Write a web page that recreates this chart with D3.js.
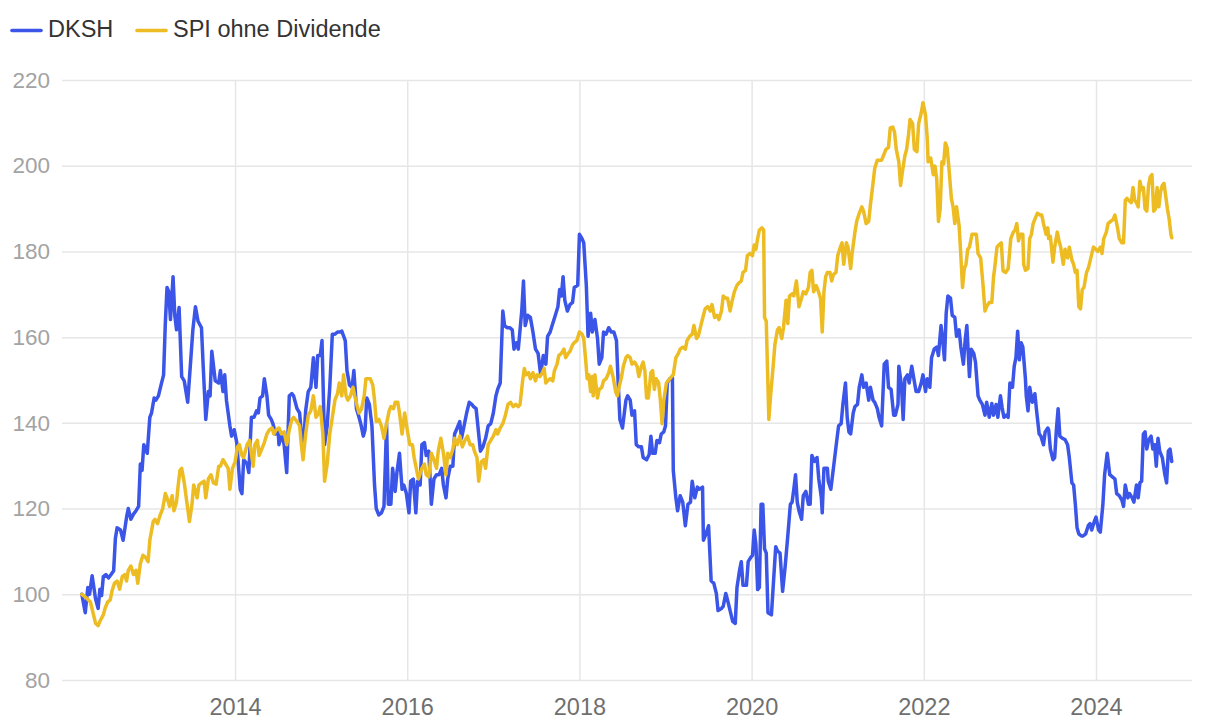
<!DOCTYPE html>
<html>
<head>
<meta charset="utf-8">
<script src="https://cdn.jsdelivr.net/npm/d3@7/dist/d3.min.js"></script>
<style>
  body { margin: 0; background: #fff; }
  svg { display: block; font-family: "Liberation Sans", Arial, Helvetica, sans-serif; }
</style>
</head>
<body>
<svg id="chart" width="1220" height="726"></svg>
<script>
// ---- data (indexed performance, start = 100) ----
const seriesNames = ["DKSH", "SPI ohne Dividende"];
const yTickValues = [80, 100, 120, 140, 160, 180, 200, 220];
const xTickValues = [2014, 2016, 2018, 2020, 2022, 2024];

// dates as decimal years
const dkshYears = [
2012.22,2012.26,2012.29,2012.31,2012.34,2012.38,2012.41,2012.43,2012.45,2012.47,2012.50,2012.53,2012.56,2012.59,2012.61,2012.63,2012.67,2012.70,2012.74,2012.76,2012.79,2012.82,2012.85,2012.88,2012.90,2012.92,2012.94,2012.98,
2013.01,2013.03,2013.06,2013.08,2013.11,2013.14,2013.17,2013.19,2013.21,2013.23,2013.25,2013.28,2013.30,2013.32,2013.35,2013.38,2013.41,2013.45,2013.48,2013.51,2013.54,2013.57,2013.61,2013.63,2013.66,2013.69,2013.71,2013.73,2013.77,2013.81,2013.83,2013.86,2013.88,2013.90,2013.94,2013.96,2013.99,
2014.02,2014.06,2014.08,2014.10,2014.14,2014.16,2014.19,2014.22,2014.25,2014.27,2014.29,2014.32,2014.34,2014.37,2014.39,2014.42,2014.44,2014.47,2014.50,2014.51,2014.54,2014.57,2014.60,2014.63,2014.66,2014.68,2014.72,2014.75,2014.77,2014.79,2014.82,2014.85,2014.88,2014.91,2014.94,2014.96,2014.99,
2015.01,2015.04,2015.07,2015.10,2015.13,2015.16,2015.19,2015.22,2015.24,2015.28,2015.30,2015.33,2015.36,2015.38,2015.41,2015.44,2015.46,2015.49,2015.51,2015.53,2015.56,2015.59,2015.62,2015.64,2015.67,2015.70,2015.73,2015.76,2015.78,2015.81,2015.83,2015.86,2015.88,2015.91,2015.94,2015.96,2015.99,
2016.02,2016.04,2016.07,2016.10,2016.12,2016.15,2016.17,2016.20,2016.22,2016.25,2016.28,2016.31,2016.34,2016.37,2016.40,2016.42,2016.45,2016.47,2016.50,2016.53,2016.55,2016.58,2016.61,2016.63,2016.66,2016.69,2016.72,2016.75,2016.77,2016.80,2016.83,2016.85,2016.88,2016.91,2016.94,2016.97,
2017.00,2017.03,2017.05,2017.08,2017.11,2017.13,2017.16,2017.19,2017.22,2017.24,2017.27,2017.29,2017.33,2017.35,2017.37,2017.40,2017.43,2017.46,2017.49,2017.52,2017.55,2017.58,2017.61,2017.63,2017.66,2017.69,2017.72,2017.75,2017.77,2017.79,2017.81,2017.83,2017.86,2017.89,2017.92,2017.94,2017.98,
2018.00,2018.03,2018.05,2018.08,2018.10,2018.13,2018.15,2018.18,2018.21,2018.23,2018.26,2018.28,2018.31,2018.34,2018.37,2018.40,2018.43,2018.45,2018.47,2018.50,2018.54,2018.56,2018.59,2018.61,2018.64,2018.66,2018.69,2018.72,2018.74,2018.78,2018.81,2018.83,2018.85,2018.88,2018.90,2018.93,2018.95,2018.98,
2019.00,2019.02,2019.05,2019.08,2019.09,2019.12,2019.14,2019.17,2019.20,2019.23,2019.26,2019.29,2019.31,2019.34,2019.37,2019.39,2019.43,2019.44,2019.47,2019.50,2019.53,2019.56,2019.59,2019.61,2019.65,2019.67,2019.70,2019.72,2019.75,2019.78,2019.81,2019.83,2019.86,2019.88,2019.90,2019.94,2019.96,2019.99,
2020.01,2020.03,2020.05,2020.07,2020.09,2020.11,2020.13,2020.15,2020.17,2020.19,2020.23,2020.25,2020.28,2020.30,2020.33,2020.36,2020.39,2020.42,2020.45,2020.47,2020.49,2020.51,2020.53,2020.55,2020.58,2020.60,2020.63,2020.66,2020.68,2020.70,2020.73,2020.76,2020.78,2020.81,2020.82,2020.84,2020.88,2020.89,2020.92,2020.95,2020.98,
2021.01,2021.04,2021.06,2021.09,2021.11,2021.13,2021.15,2021.18,2021.20,2021.23,2021.25,2021.28,2021.30,2021.33,2021.36,2021.38,2021.41,2021.43,2021.46,2021.48,2021.51,2021.54,2021.57,2021.59,2021.62,2021.65,2021.67,2021.70,2021.71,2021.74,2021.76,2021.78,2021.81,2021.83,2021.86,2021.88,2021.91,2021.94,2021.97,2021.99,
2022.02,2022.04,2022.07,2022.09,2022.12,2022.15,2022.17,2022.20,2022.22,2022.24,2022.26,2022.28,2022.31,2022.33,2022.36,2022.38,2022.41,2022.43,2022.46,2022.48,2022.50,2022.53,2022.55,2022.58,2022.60,2022.63,2022.65,2022.68,2022.71,2022.73,2022.76,2022.79,2022.81,2022.84,2022.86,2022.89,2022.91,2022.93,2022.96,2022.98,
2023.00,2023.03,2023.05,2023.07,2023.09,2023.11,2023.13,2023.15,2023.18,2023.19,2023.21,2023.23,2023.26,2023.29,2023.31,2023.34,2023.36,2023.39,2023.41,2023.44,2023.45,2023.47,2023.50,2023.52,2023.54,2023.56,2023.58,2023.61,2023.64,2023.67,2023.69,2023.72,2023.74,2023.76,2023.78,2023.80,2023.83,2023.85,2023.88,2023.91,2023.93,2023.95,2023.98,
2024.00,2024.03,2024.05,2024.08,2024.10,2024.13,2024.16,2024.19,2024.22,2024.24,2024.27,2024.30,2024.32,2024.34,2024.37,2024.39,2024.42,2024.44,2024.47,2024.49,2024.51,2024.53,2024.55,2024.57,2024.59,2024.61,2024.64,2024.66,2024.68,2024.70,2024.72,2024.74,2024.77,2024.80,2024.82,2024.84,2024.86,2024.88
];
const dkshValues = [
100,95.7,101.6,100,104.3,98.9,96.7,101.2,99.7,104.1,104.6,103.8,104.6,105.5,113,115.5,115,112.6,118,120,117.5,118.7,119.5,120.5,130.4,128.9,134.9,132.9,
141.3,142.3,145.8,145.3,146.3,148.8,151.2,163.2,171.6,170.6,164.1,174.1,165.1,161.7,166.9,150.8,149.8,144.8,153.2,161.7,167.1,163.7,162.2,153.2,140.8,147.3,146.3,156.7,149.8,149.3,152.2,147.3,151.2,145.3,139.3,136.9,138.4,
135.4,124.5,123.5,131.4,130.4,128.4,141.3,141.3,142.8,142.3,145.8,146.3,150.3,146.3,141.8,140.8,139.8,137.4,138.4,134.9,137.4,134.9,128.4,146.3,146.8,146.3,143.3,142.3,137.4,133.4,142.8,147.3,148.3,155.2,148.3,155.7,155.7,
159.2,134.9,139.3,148.3,160.7,160.7,161.2,161.2,161.4,159.2,152.2,148.8,148.3,152.2,143.3,141.3,139.8,136.9,138.4,145.8,144.3,139.3,125.5,120,118.5,119,120.5,139.8,121,121,129.4,124,128.4,132.9,124.5,125.5,123.5,
119,126.4,126.9,119,126.4,125.5,134.9,135.4,132.4,133.4,121,126.9,127.9,127.9,129.4,125.5,122.5,126.9,129.9,129.9,137.4,138.8,140.3,136.4,139.3,142.3,144.8,144.3,143.8,143.3,137.4,133.4,134.4,136.4,139.3,139.8,
142.3,146.3,147.8,149.3,166.1,162.7,162.2,162.2,161.7,157.2,158.7,157.2,166.1,173.1,162.7,165.1,164.6,161.2,157.2,156.2,151.2,155.7,153.7,160.2,161.2,163.2,165.1,167.1,171.1,169.6,174.1,168.6,166.1,167.6,168.1,171.6,172.1,
184,183,182,172.1,160.2,165.6,161.2,164.1,159.7,153.7,155.2,161.2,160.7,162.2,161.2,161.2,159.2,149.3,140.8,138.8,145.3,146.3,145.3,141.8,142.8,134.9,134.4,134.4,131.9,131.4,132.6,136.9,132.9,132.9,135.9,135.4,137.4,137.9,
139.3,149.3,150.3,150.5,128.9,122.5,119.5,123,121.5,116,121,121.5,126.4,122.5,125,124.5,125,112.6,114.1,116,103.1,102.6,100.2,96.2,96.7,97.2,100.2,98.7,96.2,93.7,93.2,101.6,105.6,107.6,102.1,102.1,107.6,108.6,
109.1,115,111.6,101.1,101.6,121,121,110.6,109.6,95.7,95.2,101.6,111.1,110.1,109.6,100.7,106.6,113.6,121,121.5,124.5,127.9,121.5,119.5,117.5,123,124,121,121,132.4,131,131.9,126.9,122.5,119,129.4,129.4,126.4,124.5,129.4,134.4,
139.3,139.8,144.3,149.3,141.3,137.9,137.4,142.3,143.8,144.3,148.3,151.2,148.3,149.3,145.3,148.3,145.3,144.8,143.3,141.3,139.3,153.7,154.4,148.3,147.8,141.8,141.8,144.3,153.2,148.8,140.8,150.3,151.2,149.3,153.2,150.8,147.3,147.3,149.3,151.2,
147.3,150.3,148.3,155.2,157.2,157.7,155.7,162.7,159.2,154.7,165.6,169.6,169.1,165.1,164.6,160.2,161.7,157.7,153.7,159.2,162.7,150.8,157.2,156.2,154.2,146.3,145.3,144.3,141.8,144.8,141.3,144.5,141.8,144.3,141.3,146.3,143.5,141.3,141.8,141.3,
149.3,148.3,153.2,155.2,161.4,154.7,158.7,157.7,150.3,146.3,142.8,148.3,144.8,146.8,142.8,137.4,136.9,134.9,137.9,138.8,138.4,133.9,131.4,131.9,138.4,143.3,136.9,136.4,136.1,134.9,131.9,126,125.5,121,115.5,114.1,113.6,113.6,114.1,116,116.5,115,117,
118,115,114.5,121,127.9,132.9,127.9,127.4,126.9,123.5,123,122,120.5,125.5,122.5,123.5,122.5,121.5,125.5,122.5,126,126.4,137.4,137.9,133.9,135.9,136.9,133.9,134.9,129.9,136.4,133.4,131.9,127.9,126,133.4,133.9,131
];

const spiYears = [
2012.22,2012.27,2012.32,2012.35,2012.38,2012.41,2012.43,2012.47,2012.49,2012.52,2012.55,2012.57,2012.60,2012.63,2012.66,2012.69,2012.72,2012.74,2012.76,2012.79,2012.82,2012.85,2012.87,2012.90,2012.93,2012.96,2012.99,
2013.01,2013.05,2013.07,2013.10,2013.13,2013.16,2013.19,2013.21,2013.24,2013.27,2013.29,2013.32,2013.34,2013.36,2013.38,2013.41,2013.44,2013.47,2013.50,2013.52,2013.56,2013.58,2013.61,2013.64,2013.66,2013.69,2013.72,2013.75,2013.78,2013.81,2013.83,2013.86,2013.89,2013.92,2013.94,2013.97,
2014.00,2014.03,2014.05,2014.08,2014.10,2014.14,2014.17,2014.21,2014.23,2014.26,2014.28,2014.31,2014.34,2014.37,2014.40,2014.43,2014.45,2014.48,2014.51,2014.54,2014.57,2014.60,2014.63,2014.66,2014.68,2014.72,2014.75,2014.77,2014.79,2014.82,2014.85,2014.88,2014.91,2014.94,2014.97,2014.99,
2015.02,2015.04,2015.07,2015.10,2015.13,2015.16,2015.19,2015.21,2015.24,2015.26,2015.29,2015.31,2015.34,2015.37,2015.39,2015.42,2015.44,2015.47,2015.50,2015.52,2015.55,2015.57,2015.60,2015.62,2015.64,2015.67,2015.70,2015.73,2015.76,2015.79,2015.81,2015.84,2015.86,2015.89,2015.91,2015.94,2015.97,
2016.00,2016.03,2016.06,2016.08,2016.11,2016.13,2016.17,2016.20,2016.22,2016.25,2016.28,2016.31,2016.34,2016.36,2016.39,2016.42,2016.45,2016.47,2016.50,2016.53,2016.55,2016.58,2016.61,2016.64,2016.67,2016.70,2016.73,2016.76,2016.78,2016.81,2016.83,2016.86,2016.89,2016.91,2016.94,2016.97,
2017.00,2017.03,2017.05,2017.08,2017.11,2017.14,2017.17,2017.20,2017.23,2017.26,2017.29,2017.31,2017.34,2017.36,2017.38,2017.41,2017.43,2017.46,2017.49,2017.51,2017.54,2017.57,2017.59,2017.61,2017.63,2017.66,2017.69,2017.71,2017.74,2017.76,2017.79,2017.82,2017.84,2017.87,2017.89,2017.92,2017.94,2017.97,
2018.00,2018.03,2018.05,2018.07,2018.09,2018.11,2018.13,2018.15,2018.16,2018.18,2018.21,2018.23,2018.26,2018.28,2018.31,2018.34,2018.36,2018.39,2018.42,2018.44,2018.46,2018.49,2018.51,2018.54,2018.56,2018.59,2018.61,2018.64,2018.67,2018.69,2018.72,2018.74,2018.76,2018.78,2018.80,2018.83,2018.85,2018.87,2018.89,2018.92,2018.94,2018.96,2018.98,
2019.01,2019.03,2019.07,2019.09,2019.12,2019.15,2019.17,2019.20,2019.23,2019.25,2019.28,2019.31,2019.33,2019.36,2019.38,2019.41,2019.44,2019.46,2019.49,2019.52,2019.54,2019.57,2019.60,2019.62,2019.65,2019.67,2019.70,2019.72,2019.75,2019.77,2019.80,2019.83,2019.85,2019.88,2019.90,2019.93,2019.95,2019.98,
2020.01,2020.03,2020.05,2020.07,2020.09,2020.12,2020.14,2020.15,2020.17,2020.20,2020.22,2020.25,2020.27,2020.30,2020.32,2020.35,2020.37,2020.40,2020.42,2020.44,2020.47,2020.49,2020.52,2020.53,2020.55,2020.58,2020.60,2020.63,2020.66,2020.68,2020.70,2020.72,2020.75,2020.77,2020.80,2020.82,2020.84,2020.86,2020.88,2020.91,2020.93,2020.95,2020.98,
2021.00,2021.03,2021.05,2021.07,2021.10,2021.12,2021.15,2021.17,2021.20,2021.22,2021.25,2021.28,2021.30,2021.33,2021.36,2021.38,2021.41,2021.43,2021.46,2021.48,2021.51,2021.53,2021.56,2021.59,2021.61,2021.64,2021.66,2021.68,2021.71,2021.73,2021.75,2021.78,2021.80,2021.82,2021.84,2021.87,2021.89,2021.92,2021.94,2021.97,2021.99,
2022.02,2022.04,2022.05,2022.08,2022.11,2022.13,2022.15,2022.17,2022.19,2022.21,2022.23,2022.25,2022.27,2022.29,2022.32,2022.34,2022.36,2022.38,2022.41,2022.43,2022.45,2022.47,2022.49,2022.51,2022.53,2022.56,2022.58,2022.61,2022.63,2022.66,2022.69,2022.71,2022.73,2022.76,2022.79,2022.81,2022.82,2022.85,2022.87,2022.90,2022.92,2022.95,2022.98,
2023.01,2023.04,2023.06,2023.08,2023.10,2023.12,2023.15,2023.16,2023.18,2023.21,2023.23,2023.25,2023.27,2023.30,2023.32,2023.35,2023.37,2023.39,2023.42,2023.44,2023.45,2023.47,2023.50,2023.52,2023.55,2023.57,2023.59,2023.62,2023.64,2023.67,2023.69,2023.72,2023.74,2023.76,2023.78,2023.80,2023.82,2023.84,2023.86,2023.89,2023.91,2023.94,2023.97,
2024.00,2024.02,2024.05,2024.07,2024.09,2024.12,2024.14,2024.17,2024.20,2024.22,2024.25,2024.27,2024.30,2024.32,2024.34,2024.36,2024.38,2024.41,2024.43,2024.45,2024.47,2024.49,2024.51,2024.53,2024.55,2024.57,2024.59,2024.61,2024.63,2024.65,2024.67,2024.69,2024.71,2024.73,2024.75,2024.77,2024.79,2024.81,2024.83,2024.85,2024.87,2024.88
];
const spiValues = [
100,99.2,98.2,95.7,93.2,92.7,93.7,95.2,96.7,98.2,98.7,100.7,102.6,103.1,101.2,104.1,104.6,103.1,105.6,106.6,104.6,105.6,102.6,107.1,109.1,108.6,107.6,
112.6,117,117.5,116.5,118.5,120,123.5,122.5,120.5,123,119.5,121.5,125.5,128.9,129.4,126,121.5,117,121,125.5,122.5,125.5,126,126.4,122.5,126.9,127.9,126,125.7,129.9,129.9,131.4,130.4,129.4,124.5,129.4,
130.9,134.4,134.9,132.4,131.9,134.9,135.9,129.9,134.9,135.9,132.4,133.9,135.4,137.4,138.4,138.8,137.4,138.4,138.8,137.4,137.9,134.9,138.4,140.8,141.3,140.3,139.3,134.9,131.4,137.4,141.8,142.8,146.3,141.3,142.3,143.8,
137.4,126.4,130.4,137.4,141.3,145.3,146.8,149.3,146.3,151.2,146.3,145.3,146.3,148.3,146.3,143.8,142.3,143.3,146.3,150.3,150.3,150.3,148.8,145.3,140.3,140.8,139.3,136.4,139.8,142.8,143.8,143.3,144.8,144.8,142.3,137.4,142.3,
138.4,134.9,134.9,131.9,128.9,126.9,129.4,130.4,127.9,127.4,132.9,131.4,129.4,133.4,136.4,132.9,127.9,132.9,131.9,133.9,136.4,134.9,136.9,134.4,135.9,136.9,134.9,134.9,133.4,131.9,126.4,130.9,131.4,129.4,134.9,135.9,
136.9,138.4,137.4,138.8,139.8,141.8,144.3,144.8,143.8,144.3,143.8,144.3,149.8,152.7,151.2,151.7,150.3,151.7,149.8,151.2,150.8,151.7,152.7,149.3,149.8,150.3,149.8,152.2,153.7,155.7,156.2,157.2,155.2,156.2,156.7,158.2,158.7,159.2,
161.2,160.7,159.7,155.2,150.3,151.2,147.3,150.8,146.3,151.2,145.8,147.8,148.3,149.8,150.3,151.7,153.2,150.8,147.3,146.3,148.3,150.8,153.2,155.2,155.7,155.2,153.7,154.2,153.2,150.8,153.2,154.2,152.2,145.8,145.8,151.7,152.2,147.8,150.3,149.3,145.3,139.8,145.3,
149.3,149.8,150.8,151.2,155.2,156.2,157.2,157.7,157.2,159.2,160.2,160.7,162.7,159.7,160.2,162.7,165.1,166.6,167.1,166.1,167.6,164.6,165.1,164.1,166.1,169.6,169.1,169.1,166.1,168.1,170.6,172.1,172.6,173.1,175.1,175.6,179,179.5,
179,181.5,180.5,183,185,185.5,185,164.6,163.7,140.8,146.3,153.2,158.2,161.7,162.2,159.7,162.2,168.6,163.2,169.6,170.1,169.6,173.1,171.1,167.1,169.1,170.6,170.1,171.6,175.1,175.6,170.6,172,171,169.1,161.2,170.6,174.1,175.1,175.1,173.1,174.6,175.1,
179,181,182,177,182,181,176,180,184.5,187,188.9,190.4,189.4,186.5,187,190.9,195.9,199.4,201.3,201.3,201.3,202.3,203.8,204.3,208.8,209,207.8,203.8,200.9,195.4,198.4,202.3,203.8,206.8,210.8,209.8,203.8,203.3,209.8,212.3,214.7,
211.8,206.3,200.9,201.8,197.9,199.9,196.9,187,189.9,200.9,200.4,205.3,204.3,199.9,192.4,190.4,186.5,190.4,186,179,171.6,176,177,180.5,181,184,184,184,179.5,178.5,171.6,166.1,167.1,168.1,168.1,174.1,175.6,181,181.5,182,175.5,175.1,176,
183,184.5,185,186.5,182.5,184,184,177,175.6,176,183,184,186.5,188,188.9,188.5,188.5,186.5,184,185.5,183,183.5,177.5,181,184.5,182.5,181,177,180.5,178.5,181,178,177,175.1,175.6,167.1,166.6,171.1,171.6,175.1,176,178.5,181,
180.5,180,181,179.5,183,184.5,186.5,187,187.5,188.5,185.5,183,182,182,191.9,192.4,191.9,191.4,194.9,191.9,191.4,190.4,196.4,194.4,194.9,189.9,189.4,195.4,197.4,197.9,189.4,189.9,194.9,190.4,193.9,195.4,195.9,192.9,189.9,187.5,184,183.2
];

// ---- styling (kept separate from data) ----
const colors = ["#3a55e8", "#ecbc22"];

const svg = d3.select("#chart");
const plot = { left: 62, right: 1192, top: 80, bottom: 680 };

const x = d3.scaleLinear().domain([2011.99, 2025.115]).range([plot.left, plot.right]);
const y = d3.scaleLinear().domain([80, 220]).range([plot.bottom, plot.top]);

// horizontal grid + y labels
const yAxis = d3.axisLeft(y)
  .tickValues(yTickValues)
  .tickSize(-(plot.right - plot.left))
  .tickPadding(12)
  .tickFormat(d3.format("d"));
const gy = svg.append("g").attr("transform", `translate(${plot.left},0)`).call(yAxis);
gy.select(".domain").remove();
gy.selectAll(".tick line").attr("stroke", "#e6e6e6").attr("stroke-width", 1.5);
gy.selectAll(".tick text")
  .attr("fill", "#a3a3a3")
  .style("font-size", "22.5px")
  .attr("font-family", null);

// vertical grid + x labels
const xAxis = d3.axisBottom(x)
  .tickValues(xTickValues)
  .tickSize(-(plot.bottom - plot.top))
  .tickPadding(18)
  .tickFormat(d3.format("d"));
const gx = svg.append("g").attr("transform", `translate(0,${plot.bottom})`).call(xAxis);
gx.select(".domain").remove();
gx.selectAll(".tick line").attr("stroke", "#e6e6e6").attr("stroke-width", 1.5);
gx.selectAll(".tick text")
  .attr("fill", "#6f6f6f")
  .style("font-size", "23.5px")
  .attr("font-family", null);

// lines
const series = [
  { name: seriesNames[0], pts: d3.zip(dkshYears, dkshValues), color: colors[0] },
  { name: seriesNames[1], pts: d3.zip(spiYears, spiValues), color: colors[1] }
];
const line = d3.line().x(d => x(d[0])).y(d => y(d[1]));
svg.append("g").selectAll("path")
  .data(series)
  .join("path")
  .attr("d", d => line(d.pts))
  .attr("fill", "none")
  .attr("stroke", d => d.color)
  .attr("stroke-width", 3.5)
  .attr("stroke-linejoin", "round")
  .attr("stroke-linecap", "round");

// legend
const legend = svg.append("g");
const legendX = [11, 136];
series.forEach((s, i) => {
  const g = legend.append("g").attr("transform", `translate(${legendX[i]},0)`);
  g.append("line")
    .attr("x1", 1).attr("x2", 30).attr("y1", 30.5).attr("y2", 30.5)
    .attr("stroke", s.color).attr("stroke-width", 3.6).attr("stroke-linecap", "round");
  g.append("text")
    .attr("x", 37).attr("y", 36.7)
    .attr("fill", "#333")
    .style("font-size", "23.5px")
    .text(s.name);
});
</script>
</body>
</html>
